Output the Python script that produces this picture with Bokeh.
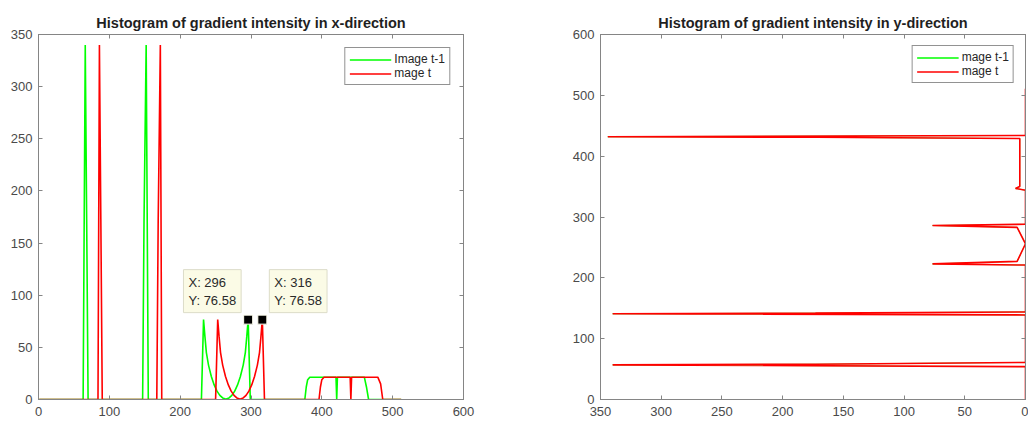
from bokeh.plotting import figure
from bokeh.layouts import row
from bokeh.models import (Range1d, FixedTicker, LinearAxis, Legend, LegendItem, Label,
                          CustomJSTickFormatter)
from bokeh.embed import file_html
from bokeh.resources import INLINE

# ---------------- data ----------------
# Histogram of gradient intensity in x-direction (bin index -> count)
xdir_t1_x = [1, 63, 66, 68, 70, 147, 149, 152, 155, 230, 233, 235, 237, 240, 244, 248, 252, 256, 260, 264,
             265, 269, 273, 277, 281, 285, 289, 292, 294, 296, 299, 376, 378, 380, 383, 420, 421, 422,
             460, 463, 466, 512]
xdir_t1_y = [0, 0, 340, 173, 0, 0, 173, 340, 0, 0, 76.58, 60, 45, 33, 22, 14, 8, 4, 1.5, 0.5,
             0.5, 1.5, 4, 8, 14, 22, 33, 45, 60, 76.58, 0, 0, 12, 19, 21.4, 21.4, 0, 21.4,
             21.4, 12, 0, 0]
xdir_t_x = [1, 84, 86, 88, 90, 167, 169, 172, 174, 250, 253, 255, 257, 260, 264, 268, 272, 276, 280, 284,
            285, 289, 293, 297, 301, 305, 309, 312, 314, 316, 319, 396, 398, 400, 403, 440, 441, 442,
            479, 483, 486, 512]
xdir_t_y = [0, 0, 340, 173, 0, 0, 173, 340, 0, 0, 76.58, 60, 45, 33, 22, 14, 8, 4, 1.5, 0.5,
            0.5, 1.5, 4, 8, 14, 22, 33, 45, 60, 76.58, 0, 0, 12, 19, 21.4, 21.4, 0, 21.4,
            21.4, 15, 0, 0]

# Histogram of gradient intensity in y-direction (count plotted against bin index)
ydir_idx = [1, 54, 57, 58, 61, 139, 141, 142, 144, 221, 223, 227, 256, 283, 286, 288, 344, 347, 350,
            429, 431, 432, 434, 511]
ydir_t1_val = [0, 0, 340, 173, 0, 0, 340, 173, 0, 0, 76.58, 6.9, 0, 6.9, 76.58, 0, 0, 8.2, 4.7,
               4.7, 173, 344, 0, 0]
ydir_t_val = [0, 0, 340, 173, 0, 0, 340, 173, 0, 0, 76.58, 6.9, 0, 6.9, 76.58, 0, 0, 8.2, 4.7,
              4.7, 173, 344, 0, 0]

# data tips
tip_x = [296, 316]
tip_y = [76.58, 76.58]

# ticks
xdir_xticks = [0, 100, 200, 300, 400, 500, 600]
xdir_yticks = [0, 50, 100, 150, 200, 250, 300, 350]
ydir_xticks = [0, 50, 100, 150, 200, 250, 300, 350]
ydir_yticks = [0, 100, 200, 300, 400, 500, 600]

titles = ["Histogram of gradient intensity in x-direction",
          "Histogram of gradient intensity in y-direction"]
legend_labels_x = ["Image t-1", "mage t"]
legend_labels_y = ["mage t-1", "mage t"]

# ---------------- style ----------------
FONT = "Liberation Sans"
AX = "#858585"
TXT = "#4a4a4a"
GREEN = "#00ff00"
RED = "#ff0000"
LW = 1.6


def style_axis(ax, ticks, labels=True, standoff=6):
    ax.ticker = FixedTicker(ticks=ticks)
    ax.axis_line_color = AX
    ax.major_tick_line_color = AX
    ax.major_tick_in = 4
    ax.major_tick_out = 0
    ax.minor_tick_line_color = None
    ax.major_label_text_font = FONT
    ax.major_label_text_color = TXT
    if labels:
        ax.major_label_text_font_size = "13px"
        ax.major_label_standoff = standoff
    else:
        ax.formatter = CustomJSTickFormatter(code="return ''")
        ax.major_label_text_font_size = "1px"
        ax.major_label_standoff = 0


def make_fig(width, title, xr, yr, xt, yt, mbl, mbr):
    p = figure(width=width, height=421, x_range=xr, y_range=yr,
               output_backend="svg", toolbar_location=None,
               min_border_left=mbl, min_border_right=mbr,
               min_border_top=34, min_border_bottom=22)
    p.xgrid.visible = False
    p.ygrid.visible = False
    p.outline_line_color = AX
    p.outline_line_width = 1
    p.title.text = title
    p.title.align = "center"
    p.title.text_font = FONT
    p.title.text_font_size = "14.5px"
    p.title.text_font_style = "bold"
    p.title.text_color = "#1f1f1f"
    p.title.standoff = 8
    style_axis(p.xaxis[0], xt, standoff=7)
    style_axis(p.yaxis[0], yt, standoff=6)
    top = LinearAxis()
    style_axis(top, xt, labels=False)
    p.add_layout(top, "above")
    right = LinearAxis()
    style_axis(right, yt, labels=False)
    p.add_layout(right, "right")
    return p


def make_legend(items, margin):
    lg = Legend(items=items, location="top_right", margin=margin, padding=4, spacing=0,
                glyph_width=42, glyph_height=13, label_height=13, label_standoff=3,
                label_text_font=FONT, label_text_font_size="12px", label_text_color="#262626",
                border_line_color="#262626", border_line_width=1,
                background_fill_color="white", background_fill_alpha=1)
    return lg


# ---------------- left: x-direction ----------------
p1 = make_fig(530, titles[0], Range1d(0, 600), Range1d(0, 350), xdir_xticks, xdir_yticks, 38, 67)
g1 = p1.line(xdir_t1_x, xdir_t1_y, line_color=GREEN, line_width=LW)
r1 = p1.line(xdir_t_x, xdir_t_y, line_color=RED, line_width=LW)
p1.scatter(tip_x, tip_y, marker="square", size=9, fill_color="black", line_color="#fffff0", line_width=1)
tip_anchor = ["bottom_right", "bottom_left"]
tip_dx = [-7, 7]
for tx, ty, anc, dx in zip(tip_x, tip_y, tip_anchor, tip_dx):
    p1.add_layout(Label(x=tx, y=ty, x_units="data", y_units="data",
                        text=f"X: {tx}\nY: {ty}", anchor=anc, text_align="left",
                        x_offset=dx, y_offset=7, padding=5,
                        text_font=FONT, text_font_size="13px", text_color="#2a2a2a",
                        background_fill_color="#fbfbe6", background_fill_alpha=1,
                        border_line_color="#dcdcc8", border_line_width=1))
p1.add_layout(make_legend([LegendItem(label=legend_labels_x[0], renderers=[g1]),
                           LegendItem(label=legend_labels_x[1], renderers=[r1])], 13))

# ---------------- right: y-direction ----------------
p2 = make_fig(498, titles[1], Range1d(350, 0), Range1d(0, 600), ydir_xticks, ydir_yticks, 70, 3)
# image t-1 is identical and fully hidden under image t; keep it thin so no green fringe shows
g2 = p2.line(ydir_t1_val, ydir_idx, line_color=GREEN, line_width=0.6)
r2 = p2.line(ydir_t_val, ydir_idx, line_color=RED, line_width=LW)
# legend swatch for image t-1 at the normal line width (single point: draws nothing on the plot)
g2_key = p2.line(ydir_t1_val[:1], ydir_idx[:1], line_color=GREEN, line_width=LW)
p2.add_layout(make_legend([LegendItem(label=legend_labels_y[0], renderers=[g2_key]),
                           LegendItem(label=legend_labels_y[1], renderers=[r2])], 11))

layout = row(p1, p2)
open("out.html", "w").write(file_html(layout, INLINE))
